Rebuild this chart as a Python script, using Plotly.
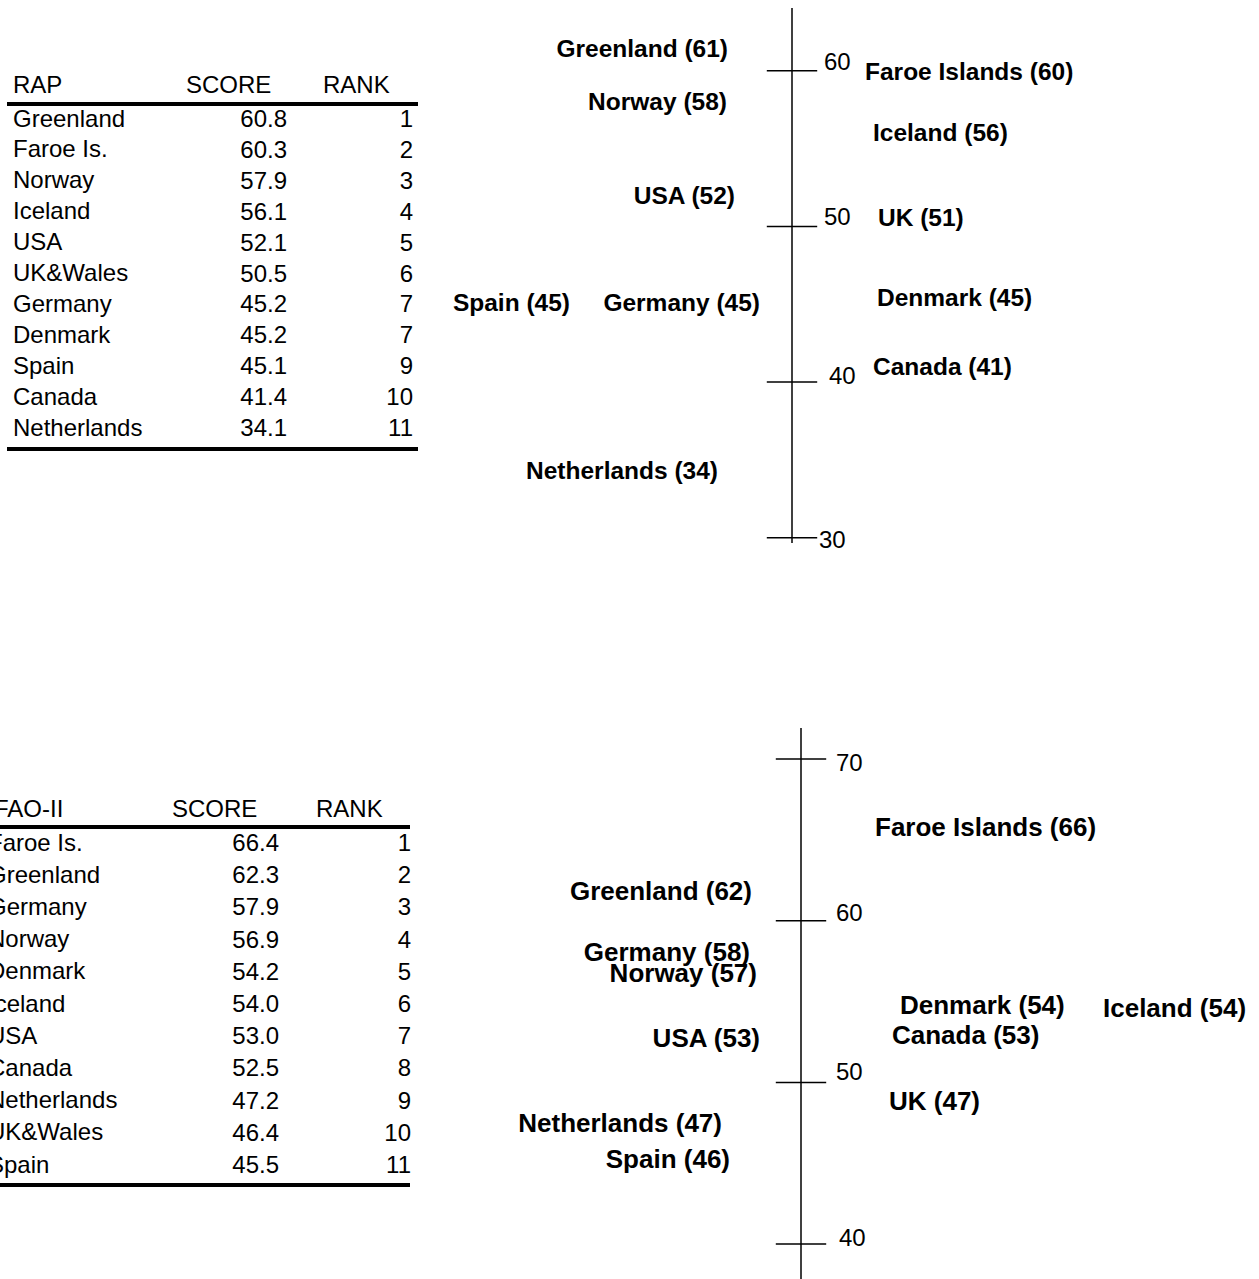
import plotly.graph_objects as go

# ---------------- DATA ----------------
rap_names = ["Greenland", "Faroe Is.", "Norway", "Iceland", "USA", "UK&Wales",
             "Germany", "Denmark", "Spain", "Canada", "Netherlands"]
rap_scores = [60.8, 60.3, 57.9, 56.1, 52.1, 50.5, 45.2, 45.2, 45.1, 41.4, 34.1]
rap_ranks = [1, 2, 3, 4, 5, 6, 7, 7, 9, 10, 11]
rap_labels = ["Greenland (61)", "Faroe Islands (60)", "Norway (58)", "Iceland (56)",
              "USA (52)", "UK (51)", "Germany (45)", "Denmark (45)", "Spain (45)",
              "Canada (41)", "Netherlands (34)"]
rap_ticks = [60, 50, 40, 30]

fao_names = ["Faroe Is.", "Greenland", "Germany", "Norway", "Denmark", "Iceland",
             "USA", "Canada", "Netherlands", "UK&Wales", "Spain"]
fao_scores = [66.4, 62.3, 57.9, 56.9, 54.2, 54.0, 53.0, 52.5, 47.2, 46.4, 45.5]
fao_ranks = [1, 2, 3, 4, 5, 6, 7, 8, 9, 10, 11]
fao_labels = ["Faroe Islands (66)", "Greenland (62)", "Germany (58)", "Norway (57)",
              "Denmark (54)", "Iceland (54)", "USA (53)", "Canada (53)",
              "Netherlands (47)", "UK (47)", "Spain (46)"]
fao_ticks = [70, 60, 50, 40]

# ---------------- LAYOUT (positions / styles, in page pixels) ----------------
W, H = 1259, 1279
FONT = "Liberation Sans, Arial, sans-serif"
MID = H / 2

rap_label_x = [728, 865, 727, 873, 735, 878, 760, 877, 570, 873, 718]
rap_label_side = ["L", "R", "L", "R", "L", "R", "L", "R", "L", "R", "L"]
rap_label_dy = [0.5, -0.5, -0.05, -0.2, -0.25, -0.1, -0.22, 0.1, -0.15, -0.55, 0.1]
rap_tick_dy = [0.45, 0.5, 0.25, -0.25]
rap_tick_dx = [32, 32, 37, 27]

fao_label_x = [875, 752, 750, 757, 900, 1103, 760, 892, 722, 889, 730]
fao_label_side = ["R", "L", "L", "L", "R", "R", "L", "R", "L", "R", "L"]
fao_label_dy = [-0.75, -0.6, 0.0, -0.3, 0.45, 0.45, -0.4, 0.25, 0.15, 2.3, -0.4]
fao_tick_dy = [-0.37, 0.37, 0.5, 0.25]
fao_tick_dx = [35, 35, 35, 38]

# table geometry: (row0 px, row spacing px, header px, top rule px, bottom rule px)
RAP_TABLE = dict(row0=121, sp=30.9, head=87, rule_top=104, rule_bot=449)
FAO_TABLE = dict(row0=845, sp=32.2, head=811, rule_top=827, rule_bot=1185)
ANN_SHIFT = 3


def value_range(ref_val, ref_px, ppu, top_px, bot_px):
    return [ref_val - (bot_px - ref_px) / ppu, ref_val + (ref_px - top_px) / ppu]


def row_range(row0_px, spacing, top_px, bot_px):
    return [(bot_px - row0_px) / spacing, (top_px - row0_px) / spacing]


fig = go.Figure()
annotations = []


def add_scale(yref, axis_x, ymax, ymin, ticks, tick_dx, tick_dy, scores, labels,
              label_x, side, dy, fsize):
    fig.add_trace(go.Scatter(x=[axis_x, axis_x], y=[ymax, ymin], mode="lines",
                             line=dict(color="black", width=1.5), yaxis=yref,
                             hoverinfo="skip", showlegend=False, cliponaxis=False))
    fig.add_trace(go.Scatter(x=[axis_x] * len(ticks), y=ticks, mode="markers",
                             marker=dict(symbol="line-ew", size=36,
                                         line=dict(color="black", width=1.5)),
                             yaxis=yref, hoverinfo="skip", showlegend=False))
    fig.add_trace(go.Scatter(x=[axis_x + d for d in tick_dx],
                             y=[t + d for t, d in zip(ticks, tick_dy)],
                             text=[str(t) for t in ticks], mode="text",
                             textposition="middle right",
                             textfont=dict(family=FONT, size=24, color="black"),
                             yaxis=yref, cliponaxis=False, hoverinfo="skip",
                             showlegend=False))
    fig.add_trace(go.Scatter(x=label_x, y=[s + d for s, d in zip(scores, dy)],
                             text=["<b>%s</b>" % l for l in labels], mode="text",
                             textposition=["middle left" if s == "L" else "middle right"
                                           for s in side],
                             textfont=dict(family=FONT, size=fsize, color="black"),
                             yaxis=yref, cliponaxis=False, hoverinfo="skip",
                             showlegend=False))


def add_table(yref, geo, title, names, scores, ranks, x_name, x_head, x_score, x_rank,
              x_score_head, x_rank_head, rule_x):
    n = len(names)
    rows = list(range(n))
    to_row = lambda px: (px - geo["row0"]) / geo["sp"]
    head_y = to_row(geo["head"])
    tf = dict(family=FONT, size=24, color="black")
    # left column (may run off the page's left edge): annotations in paper x
    for txt, ry, px in [(title, head_y, x_head)] + [(nm, r, x_name) for nm, r in zip(names, rows)]:
        annotations.append(dict(text=txt, x=px / W, xref="paper",
                                xanchor="left", y=ry, yref=yref, yanchor="middle",
                                yshift=ANN_SHIFT, showarrow=False, font=tf, borderpad=0))
    fig.add_trace(go.Scatter(x=[x_score_head, x_rank_head], y=[head_y] * 2,
                             text=["SCORE", "RANK"], mode="text",
                             textposition="middle right", textfont=tf, yaxis=yref,
                             cliponaxis=False, hoverinfo="skip", showlegend=False))
    fig.add_trace(go.Scatter(x=[x_score] * n, y=rows,
                             text=["%.1f" % s for s in scores], mode="text",
                             textposition="middle left", textfont=tf, yaxis=yref,
                             cliponaxis=False, hoverinfo="skip", showlegend=False))
    fig.add_trace(go.Scatter(x=[x_rank] * n, y=rows, text=[str(r) for r in ranks],
                             mode="text", textposition="middle left", textfont=tf,
                             yaxis=yref, cliponaxis=False, hoverinfo="skip",
                             showlegend=False))
    for rpx in (geo["rule_top"], geo["rule_bot"]):
        ry = to_row(rpx)
        fig.add_trace(go.Scatter(x=rule_x, y=[ry, ry], mode="lines",
                                 line=dict(color="black", width=4), yaxis=yref,
                                 cliponaxis=False, hoverinfo="skip", showlegend=False))


# top scale (RAP)
add_scale("y", 792, 64.03, 29.67, rap_ticks, rap_tick_dx, rap_tick_dy, rap_scores,
          rap_labels, rap_label_x, rap_label_side, rap_label_dy, 24.5)
# bottom scale (FAO-II)
add_scale("y2", 801, 71.92, 37.6, fao_ticks, fao_tick_dx, fao_tick_dy, fao_scores,
          fao_labels, fao_label_x, fao_label_side, fao_label_dy, 26)

add_table("y3", RAP_TABLE, "RAP", rap_names, rap_scores, rap_ranks, 12, 12, 287, 413,
          186, 323, [7, 418])
add_table("y4", FAO_TABLE, "FAO-II", fao_names, fao_scores, fao_ranks, -13, -7, 279, 411,
          172, 316, [0, 410])

hidden = dict(visible=False, showgrid=False, zeroline=False, fixedrange=True)
fig.update_layout(
    width=W, height=H, margin=dict(l=0, r=0, t=0, b=0),
    paper_bgcolor="white", plot_bgcolor="rgba(0,0,0,0)", showlegend=False,
    annotations=annotations,
    xaxis=dict(range=[0, W], domain=[0, 1], **hidden),
    yaxis=dict(range=value_range(60, 70.7, 15.57, 0, MID), domain=[0.5, 1], **hidden),
    yaxis2=dict(range=value_range(70, 759, 16.17, MID, H), domain=[0, 0.5], **hidden),
    yaxis3=dict(range=row_range(RAP_TABLE["row0"], RAP_TABLE["sp"], 0, MID),
                domain=[0.5, 1], **hidden),
    yaxis4=dict(range=row_range(FAO_TABLE["row0"], FAO_TABLE["sp"], MID, H),
                domain=[0, 0.5], **hidden),
)

fig.write_html("out.html", config={"displayModeBar": False},
               post_script="document.body.style.margin='0px';"
                           "document.body.style.overflow='hidden';")
